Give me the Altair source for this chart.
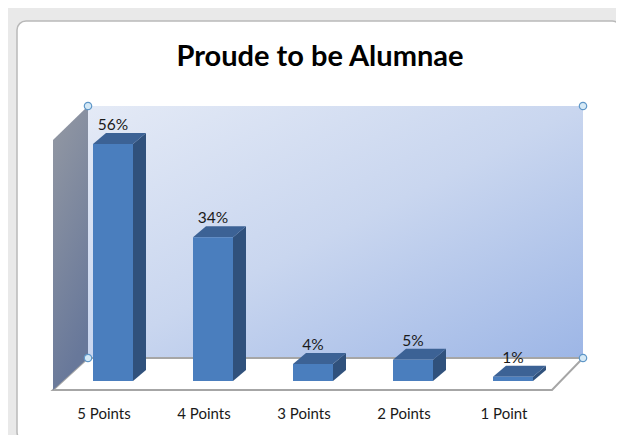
import altair as alt
import pandas as pd

# ---- data -------------------------------------------------------------
categories = ["5 Points", "4 Points", "3 Points", "2 Points", "1 Point"]
values = [56, 34, 4, 5, 1]
value_labels = ["56%", "34%", "4%", "5%", "1%"]
title_text = "Proude to be Alumnae"

# ---- geometry / style constants --------------------------------------
W, H = 608, 427          # whole svg (autosize none, padding 0)
SLOT = 100.0             # px per category slot
K = 4.23                 # px per percentage point
ORIGIN_PX = 105          # px of first category centre
BASE_PY = 373            # py of value 0
HALF = 0.2               # half bar width (slot units)
DX = 0.13                # bar depth x (slot units)
DY = 2.6                 # bar depth y (value units)
CAT_SHIFT = -0.09        # axis label offset (slot units)

FONT = "Lato"


def sx(X):
    """page pixel x -> data x"""
    return (X - 8 - ORIGIN_PX) / SLOT


def sy(Y):
    """page pixel y -> data y"""
    return (BASE_PY - (Y - 8)) / K


x_dom = [sx(8), sx(8 + W)]
y_dom = [sy(8 + H), sy(8)]
xs = alt.Scale(domain=x_dom, nice=False, zero=False)
ys = alt.Scale(domain=y_dom, nice=False, zero=False)


def X(field="x"):
    return alt.X(f"{field}:Q", scale=xs, axis=None)


def Y(field="y"):
    return alt.Y(f"{field}:Q", scale=ys, axis=None)


# ---- tables -----------------------------------------------------------
bars = pd.DataFrame({
    "cat": categories,
    "pos": list(range(len(categories))),
    "value": values,
    "label": value_labels,
})
bars["left"] = bars["pos"] - HALF
bars["right"] = bars["pos"] + HALF
bars["zero"] = 0.0
bars["lx"] = bars["pos"]
bars["ly"] = bars["value"] + DY + 0.7
bars["cx"] = bars["pos"] + CAT_SHIFT
bars["cy"] = sy(414)

side_rows, top_rows = [], []
for p, v in zip(bars["pos"], bars["value"]):
    side_rows += [
        {"id": p, "x": p + HALF, "y": v, "y2": 0.0},
        {"id": p, "x": p + HALF + DX, "y": v + DY, "y2": DY},
    ]
    top_rows += [
        {"id": p, "x": p - HALF, "y": v, "y2": v},
        {"id": p, "x": p - HALF + DX, "y": v + DY, "y2": v},
        {"id": p, "x": p + HALF, "y": v + DY, "y2": v},
        {"id": p, "x": p + HALF + DX, "y": v + DY, "y2": v + DY},
    ]
side = pd.DataFrame(side_rows)
top = pd.DataFrame(top_rows)

# decorations (walls, floor, frame, handles)
wl, wr, wt, wb = sx(88), sx(583), sy(106), sy(358)
fl, fr, fb = sx(53), sx(552), sy(390)
lw_top_front = sy(140)

frame = pd.DataFrame([{"x": sx(17), "x2": sx(621), "y": sy(21), "y2": sy(441)}])
back_wall = pd.DataFrame([{"x": wl, "x2": wr, "y": wt, "y2": wb}])
left_wall = pd.DataFrame([
    {"x": fl, "y": lw_top_front, "y2": fb},
    {"x": wl, "y": wt, "y2": wb},
])
floor = pd.DataFrame([
    {"x": fl, "y": fb, "y2": fb},
    {"x": wl, "y": wb, "y2": fb},
    {"x": fr, "y": wb, "y2": fb},
    {"x": wr, "y": wb, "y2": wb},
])
handles = pd.DataFrame([
    {"x": wl, "y": wt}, {"x": wr, "y": wt},
    {"x": wl, "y": wb}, {"x": wr, "y": wb},
])
title_df = pd.DataFrame([{"x": sx(320), "y": sy(57), "t": title_text}])

# ---- layers -----------------------------------------------------------
frame_l = alt.Chart(frame).mark_rect(
    fill="white", stroke="#b9b9b9", strokeWidth=1.5, cornerRadius=9
).encode(x=X(), x2="x2:Q", y=Y(), y2="y2:Q")

wall_l = alt.Chart(back_wall).mark_rect(
    color=alt.Gradient(
        gradient="linear", x1=0, y1=0, x2=1, y2=1,
        stops=[alt.GradientStop(color="#e4eaf6", offset=0),
               alt.GradientStop(color="#c9d6ef", offset=0.5),
               alt.GradientStop(color="#9db6e6", offset=1)],
    )
).encode(x=X(), x2="x2:Q", y=Y(), y2="y2:Q")

floor_l = alt.Chart(floor).mark_area(
    orient="vertical", fill="white", stroke="#a6a6a6", strokeWidth=2
).encode(x=X(), y=Y(), y2="y2:Q")

left_l = alt.Chart(left_wall).mark_area(
    orient="vertical",
    color=alt.Gradient(
        gradient="linear", x1=0, y1=0, x2=0.3, y2=1,
        stops=[alt.GradientStop(color="#9499a3", offset=0),
               alt.GradientStop(color="#68789a", offset=1)],
    ),
).encode(x=X(), y=Y(), y2="y2:Q")

side_l = alt.Chart(side).mark_area(orient="vertical", color="#30517c").encode(
    x=X(), y=Y(), y2="y2:Q", detail="id:N")
top_l = alt.Chart(top).mark_area(orient="vertical", color="#3c6295").encode(
    x=X(), y=Y(), y2="y2:Q", detail="id:N")
front_l = alt.Chart(bars).mark_rect(color="#4a7ebe").encode(
    x=X("left"), x2="right:Q", y=Y("value"), y2="zero:Q")

label_l = alt.Chart(bars).mark_text(
    font=FONT, fontSize=15.5, color="#1a1a1a", baseline="alphabetic"
).encode(x=X("lx"), y=Y("ly"), text="label:N")

cat_l = alt.Chart(bars).mark_text(
    font=FONT, fontSize=15, color="#1a1a1a", baseline="middle"
).encode(x=X("cx"), y=Y("cy"), text="cat:N")

handle_l = alt.Chart(handles).mark_point(
    shape="circle", filled=True, fill="#d5e9f6", stroke="#5f97c8",
    strokeWidth=1.2, size=55, opacity=1
).encode(x=X(), y=Y())

title_l = alt.Chart(title_df).mark_text(
    font=FONT, fontSize=29, fontWeight="bold", color="#000000", baseline="middle"
).encode(x=X(), y=Y(), text="t:N")

chart = alt.layer(
    frame_l, wall_l, floor_l, left_l, side_l, top_l, front_l,
    label_l, handle_l, title_l, cat_l,
).properties(
    width=W, height=H, padding=0,
    autosize=alt.AutoSizeParams(type="none"),
    background="white",
).configure_view(fill="#e9e9e9", stroke=None)

chart.save("out.html", embed_options={"renderer": "svg", "actions": False})
